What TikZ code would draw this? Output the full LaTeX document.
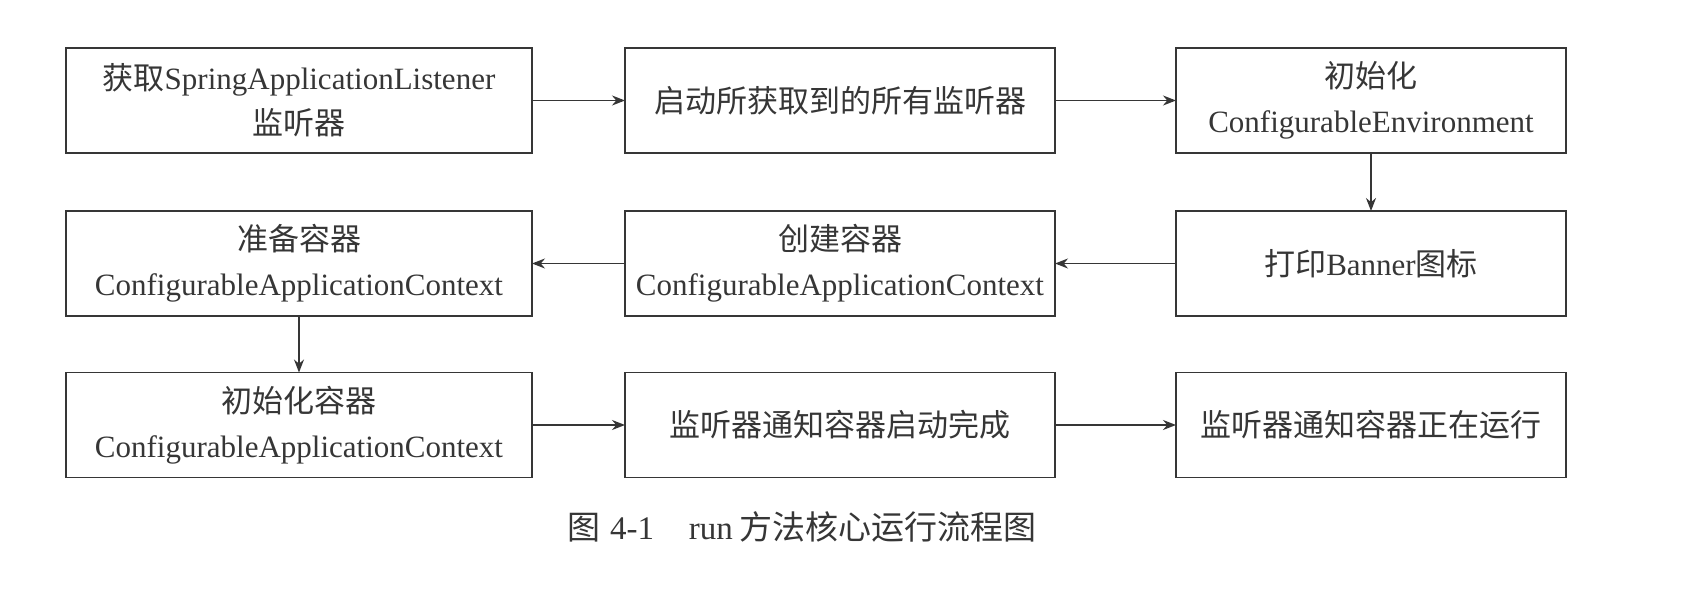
\documentclass[tikz,border=0pt]{standalone}
\usepackage{fontspec}
\setmainfont{Liberation Serif}
\newfontfamily\cjk{Noto Sans CJK SC}
\usetikzlibrary{arrows.meta}
\definecolor{ink}{HTML}{363636}
\begin{document}
\begin{tikzpicture}[x=0.5pt,y=-0.5pt,
  box/.style={draw=ink, line width=0.8pt, rectangle, inner sep=0pt, outer sep=0pt,
    minimum height=52.5pt, align=center, text=ink, font=\fontsize{15.5}{22.5}\selectfont},
  colA/.style={minimum width=233pt},
  colB/.style={minimum width=215pt},
  colC/.style={minimum width=195pt},
  conn/.style={draw=ink, line width=0.75pt, -{Stealth[length=6.5pt,width=5pt]}},
  captext/.style={text=ink, inner sep=0pt, font=\fontsize{16.5}{18}\selectfont}]
\useasboundingbox (0,0) rectangle (1692,610);
\fill[white] (0,0) rectangle (1692,610);

\node[box, colA] (b1) at (299,100.5) {{\cjk 获取}SpringApplicationListener\\{\cjk 监听器}};
\node[box, colB] (b2) at (840,100.5) {{\cjk 启动所获取到的所有监听器}};
\node[box, colC] (b3) at (1371,100.5) {{\cjk 初始化}\\ConfigurableEnvironment};

\node[box, colA] (b4) at (299,263.5) {{\cjk 准备容器}\\ConfigurableApplicationContext};
\node[box, colB] (b5) at (840,263.5) {{\cjk 创建容器}\\ConfigurableApplicationContext};
\node[box, colC] (b6) at (1371,263.5) {{\cjk 打印}Banner{\cjk 图标}};

\node[box, colA] (b7) at (299,425) {{\cjk 初始化容器}\\ConfigurableApplicationContext};
\node[box, colB] (b8) at (840,425) {{\cjk 监听器通知容器启动完成}};
\node[box, colC] (b9) at (1371,425) {{\cjk 监听器通知容器正在运行}};

\draw[conn] (b1) -- (b2);
\draw[conn] (b2) -- (b3);
\draw[conn] (b3) -- (b6);
\draw[conn] (b6) -- (b5);
\draw[conn] (b5) -- (b4);
\draw[conn] (b4) -- (b7);
\draw[conn] (b7) -- (b8);
\draw[conn] (b8) -- (b9);

\node[captext] (cap) at (802,527) {{\cjk 图}\hspace{5pt}4-1\hspace{17.5pt}run\hspace{3.5pt}{\cjk 方法核心运行流程图}};
\end{tikzpicture}
\end{document}
